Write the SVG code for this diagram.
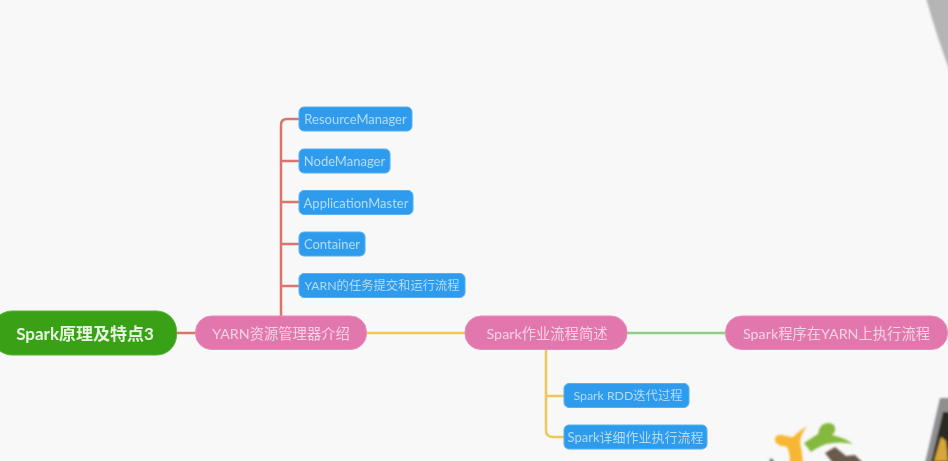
<svg xmlns="http://www.w3.org/2000/svg" width="948" height="461" viewBox="0 0 948 461">
<style>
text{font-family:"Lato","Noto Sans CJK SC",sans-serif;text-anchor:middle;dominant-baseline:central}
.sub rect{fill:#2f9bec;stroke:#52b0f2;stroke-width:1}
.sub text{font-size:12.300px;fill:#b4dcf6}
.wide text{font-size:13px}
.main rect{fill:#e277ad;stroke:#e78bb9;stroke-width:1}
.main text{font-size:14.300px;fill:#f6d3e4}
.c{fill:none;stroke-width:2.500}
.red{stroke:#d9766c}.yel{stroke:#f0c659}.grn{stroke:#8fcf85}
</style>
<defs>
<filter id="b" x="-20%" y="-20%" width="140%" height="140%"><feGaussianBlur stdDeviation="1"/></filter>
<filter id="s" x="-5%" y="-5%" width="110%" height="110%"><feGaussianBlur stdDeviation="0.500"/></filter>
</defs>
<rect width="948" height="461" fill="#f8f8f8"/>
<g id="corner-top" filter="url(#b)"><path d="M926 -2H950V72Q936 34 926 -2Z" fill="#b5b5b5"/></g>
<g id="corner-bottom" filter="url(#b)">
<path d="M940 398H950V463H925Z" fill="#8f8f8f"/>
<path d="M943 412H950V463H931Z" fill="#2a2a24"/>
<path d="M941 437L946 441L948 461H934Z" fill="#d8a63a"/>
</g>
<g id="logo" filter="url(#b)">
<path d="M775 441Q774 434 782 435Q790 437 793 437Q798 432 807 426Q801 434 800 442Q802 452 803 463H790Q790 450 786 446Q778 447 775 441Z" fill="#f7b733"/>
<path d="M804 443L818 434Q819 428 822 425Q829 421 834 425Q837 431 832 435Q845 438 853 444Q840 441 826 444Q816 448 811 452Z" fill="#84b93e"/>
<path d="M825 453L835 447L846 456L855 455L863 463H833Z" fill="#6b5a4b"/>
<path d="M771 458L775 463H769Z" fill="#555"/>
</g>
<g id="connectors" filter="url(#s)">
<path class="c red" d="M177 333H196"/>
<path class="c red" d="M281 316V125Q281 119 287 119H299M281 161H299M281 202H299M281 244H299M281 286H299"/>
<path class="c yel" d="M367 333H465"/>
<path class="c grn" d="M627 333H725"/>
<path class="c yel" d="M546 350V430Q546 437 553 437H564M546 396H564"/>
</g>
<g id="nodes" filter="url(#s)">
<g id="root"><rect x="-8" y="311" width="184.500" height="44" rx="20" fill="#37a116" stroke="#54b035"/><text x="85" y="333" font-size="17" font-weight="700" fill="#e8f5e0">Spark原理及特点3</text></g>
<g id="yarn" class="main"><rect x="195.500" y="316" width="171" height="33.500" rx="16"/><text x="281" y="333">YARN资源管理器介绍</text></g>
<g id="flow" class="main"><rect x="465" y="316" width="162" height="33.500" rx="16"/><text x="547" y="333">Spark作业流程简述</text></g>
<g id="exec" class="main"><rect x="725.500" y="316" width="222" height="33.500" rx="16"/><text x="836.500" y="333">Spark程序在YARN上执行流程</text></g>
<g id="rm" class="sub wide"><rect x="299" y="107" width="113" height="24" rx="5"/><text x="355.500" y="119">ResourceManager</text></g>
<g id="nm" class="sub wide"><rect x="299" y="149" width="91" height="24" rx="5"/><text x="344.500" y="161">NodeManager</text></g>
<g id="am" class="sub wide"><rect x="299" y="190.500" width="114" height="24" rx="5"/><text x="356" y="202.500">ApplicationMaster</text></g>
<g id="container" class="sub wide"><rect x="299" y="232" width="66" height="24" rx="5"/><text x="332" y="244">Container</text></g>
<g id="submit" class="sub"><rect x="299" y="273.500" width="166" height="24" rx="5"/><text x="382" y="285.500">YARN的任务提交和运行流程</text></g>
<g id="rdd" class="sub"><rect x="564" y="383.500" width="125" height="24" rx="5"/><text x="628" y="395.500">Spark RDD迭代过程</text></g>
<g id="detail" class="sub wide"><rect x="564" y="425" width="143" height="24" rx="5"/><text x="635.500" y="437">Spark详细作业执行流程</text></g>
</g>
</svg>
